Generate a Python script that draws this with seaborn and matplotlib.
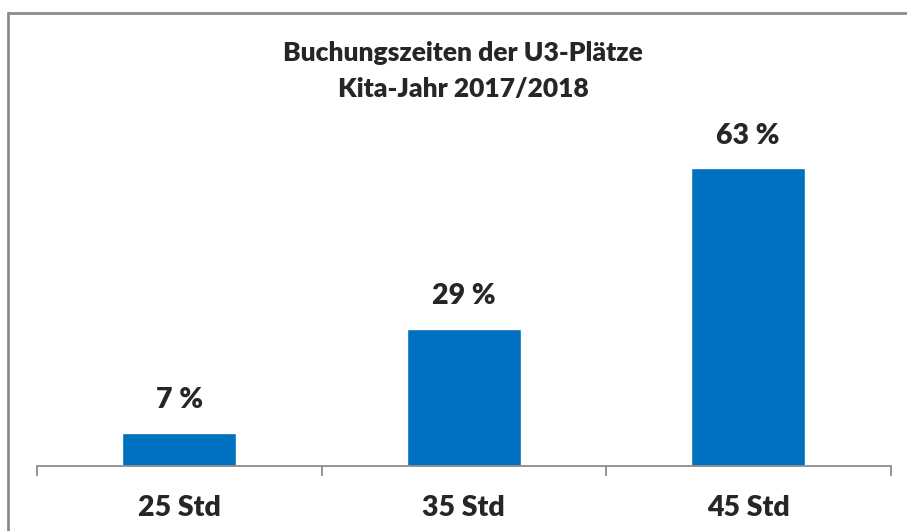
import matplotlib
matplotlib.use("Agg")
import matplotlib.pyplot as plt
import seaborn as sns
import pandas as pd
from matplotlib.lines import Line2D

# chart data
categories = ["25 Std", "35 Std", "45 Std"]
shares = [7, 29, 63]
value_labels = ["7 %", "29 %", "63 %"]
title_lines = ["Buchungszeiten der U3-Plätze", "Kita-Jahr 2017/2018"]

df = pd.DataFrame({"Buchungszeit": categories, "Anteil": shares})

sns.set_style("white")
plt.rcParams["font.family"] = ["Lato", "DejaVu Sans"]

W, H = 907, 531
fig = plt.figure(figsize=(W / 100, H / 100), dpi=100)

# outer chart frame: only top and left edges are inside the picture
frame = dict(color="#8c8c8c", linewidth=2, transform=fig.transFigure)
fig.add_artist(Line2D([7.5 / W, 1.0], [1 - 12.5 / H] * 2, **frame))
fig.add_artist(Line2D([7.5 / W] * 2, [0.0, 1 - 12.5 / H], **frame))

# axes placed in pixel units
left, right, base, top = 37, 890.5, 466, 90
ax = fig.add_axes([left / W, (H - base) / H, (right - left) / W, (base - top) / H])

sns.barplot(data=df, x="Buchungszeit", y="Anteil", color="#0070C0",
            saturation=1, width=0.4, ax=ax)

ax.set_xlim(-0.5, 2.5)
ax.set_ylim(0, 79.5)
for s in ["top", "right", "left"]:
    ax.spines[s].set_visible(False)
ax.spines["bottom"].set_color("#8c8c8c")
ax.spines["bottom"].set_linewidth(1.3)
ax.set_yticks([])
ax.set_xlabel("")
ax.set_ylabel("")

# tick marks sit between categories
ax.set_xticks([-0.5, 0.5, 1.5, 2.5], minor=True)
ax.tick_params(axis="x", which="minor", bottom=True, length=7, width=1.3,
               color="#8c8c8c", direction="out")
ax.tick_params(axis="x", which="major", length=0, pad=21)
for lbl in ax.get_xticklabels():
    lbl.set_fontsize(20.5)
    lbl.set_fontweight("heavy")

for i, (v, t) in enumerate(zip(shares, value_labels)):
    ax.annotate(t, (i, v), xytext=(0, 14), textcoords="offset points",
                ha="center", va="bottom", fontsize=20.5, fontweight="heavy")

fig.text(463 / W, 1 - 53 / H, title_lines[0], ha="center", va="center",
         fontsize=19, fontweight="heavy")
fig.text(463 / W, 1 - 89 / H, title_lines[1], ha="center", va="center",
         fontsize=19, fontweight="heavy")

fig.savefig("out.png", dpi=100)
